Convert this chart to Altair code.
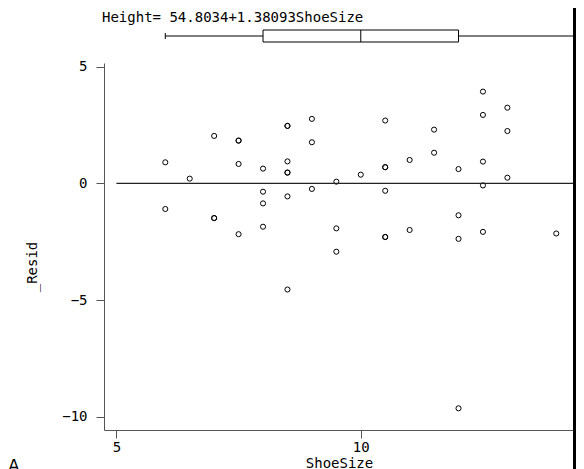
import altair as alt
import pandas as pd

# ---- data ----
shoe_size = [6, 6,
             6.5,
             7, 7, 7,
             7.5, 7.5, 7.5, 7.5,
             8, 8, 8, 8,
             8.5, 8.5, 8.5, 8.5, 8.5, 8.5, 8.5,
             9, 9, 9,
             9.5, 9.5, 9.5,
             10,
             10.5, 10.5, 10.5, 10.5, 10.5, 10.5,
             11, 11,
             11.5, 11.5,
             12, 12, 12, 12,
             12.5, 12.5, 12.5, 12.5, 12.5,
             13, 13, 13,
             14]
resid = [0.90, -1.10,
         0.20,
         2.03, -1.49, -1.49,
         1.83, 1.83, 0.83, -2.18,
         0.63, -0.36, -0.86, -1.86,
         2.46, 2.46, 0.94, 0.46, 0.46, -0.56, -4.55,
         2.76, 1.76, -0.24,
         0.07, -1.93, -2.93,
         0.37,
         2.69, 0.69, 0.69, -0.32, -2.30, -2.30,
         1.00, -2.00,
         2.30, 1.31,
         0.61, -1.37, -2.38, -9.64,
         3.93, 2.93, 0.93, -0.09, -2.08,
         3.24, 2.24, 0.24,
         -2.15]

box_min = [6]
box_q1 = [8]
box_median = [10]
box_q3 = [12]
box_max = [15]

zero_line_x = [5]
zero_line_x2 = [14.363]
zero_line_y = [0]

x_domain = [4.746, 14.363]
y_domain = [-10.57, 5.155]
x_ticks = [5, 10]
y_ticks = [-10, -5, 0, 5]
title_text = "Height= 54.8034+1.38093ShoeSize"

# ---- layout ----
W, H = 470, 367
FONT = "DejaVu Sans Mono"
AXIS_COLOR = "#555555"

pts = pd.DataFrame({"ShoeSize": shoe_size, "_Resid": resid})
box = pd.DataFrame({"ShoeSize": box_q1, "q3": box_q3, "med": box_median,
                    "bmin": box_min, "bmax": box_max})
zero_df = pd.DataFrame({"ShoeSize": zero_line_x, "ShoeSize2": zero_line_x2,
                        "_Resid": zero_line_y})
one = pd.DataFrame({"t": [title_text]})

xs = alt.Scale(domain=x_domain, nice=False, zero=False)
ys = alt.Scale(domain=y_domain, nice=False, zero=False)

xaxis = alt.Axis(values=x_ticks, title="ShoeSize", grid=False, tickSize=8,
                 labelPadding=2, titlePadding=2, format="d")
yaxis = alt.Axis(values=y_ticks, title="_Resid", grid=False, tickSize=8,
                 labelPadding=9, titlePadding=22, format="d",
                 titleY=H / 2 + 20)


def X(field):
    return alt.X(field, scale=xs, axis=xaxis, title="ShoeSize")


def Y(field):
    return alt.Y(field, scale=ys, axis=yaxis, title="_Resid")


points = alt.Chart(pts).mark_point(
    shape="circle", filled=False, size=26, color="black", strokeWidth=1, opacity=1
).encode(x=X("ShoeSize:Q"), y=Y("_Resid:Q"))

zero = alt.Chart(zero_df).mark_rule(color="#222222", strokeWidth=1.2).encode(
    x=X("ShoeSize:Q"), x2="ShoeSize2:Q", y=Y("_Resid:Q"),
)

BOX_TOP, BOX_BOT = -33, -21
WHISK = (BOX_TOP + BOX_BOT) / 2

box_rect = alt.Chart(box).mark_rect(fill="white", stroke="black", strokeWidth=1).encode(
    x=X("ShoeSize:Q"), x2="q3:Q",
    y=alt.value(BOX_TOP), y2=alt.value(BOX_BOT),
)
box_med = alt.Chart(box).mark_rule(color="black", strokeWidth=1).encode(
    x=X("med:Q"), y=alt.value(BOX_TOP), y2=alt.value(BOX_BOT),
)
whisk_lo = alt.Chart(box).mark_rule(color="black", strokeWidth=1).encode(
    x=X("bmin:Q"), x2="ShoeSize:Q", y=alt.value(WHISK),
)
whisk_hi = alt.Chart(box).mark_rule(color="black", strokeWidth=1).encode(
    x=X("q3:Q"), x2="bmax:Q", y=alt.value(WHISK),
)
whisk_cap = alt.Chart(box).mark_rule(color="black", strokeWidth=1).encode(
    x=X("bmin:Q"), y=alt.value(WHISK - 3), y2=alt.value(WHISK + 3),
)

title = alt.Chart(one).mark_text(
    align="left", baseline="alphabetic", font=FONT, fontSize=14, color="black"
).encode(x=alt.value(-2), y=alt.value(-41), text="t:N")

right_bar = alt.Chart(one).mark_rule(color="black", strokeWidth=3).encode(
    x=alt.value(W + 0.5), y=alt.value(-60), y2=alt.value(H + 60)
)

corner_a = alt.Chart(pd.DataFrame({"t": ["A"]})).mark_text(
    align="left", baseline="top", font="DejaVu Sans", fontSize=17, color="black"
).encode(x=alt.value(-96), y=alt.value(H + 29), text="t:N")

chart = alt.layer(
    points, zero, box_rect, box_med, whisk_lo, whisk_hi, whisk_cap, title,
    right_bar, corner_a
).properties(
    width=W, height=H,
    autosize=alt.AutoSizeParams(type="none"),
    padding={"left": 96, "top": 55, "right": 2, "bottom": 39},
    background="white",
).configure_view(stroke=None).configure_axis(
    domainColor=AXIS_COLOR, tickColor=AXIS_COLOR, domainWidth=1, tickWidth=1,
    labelFont=FONT, labelFontSize=14, labelColor="black",
    titleFont=FONT, titleFontSize=14, titleColor="black", titleFontWeight="normal",
)

chart.save("out.html", embed_options={"renderer": "svg", "actions": False})
